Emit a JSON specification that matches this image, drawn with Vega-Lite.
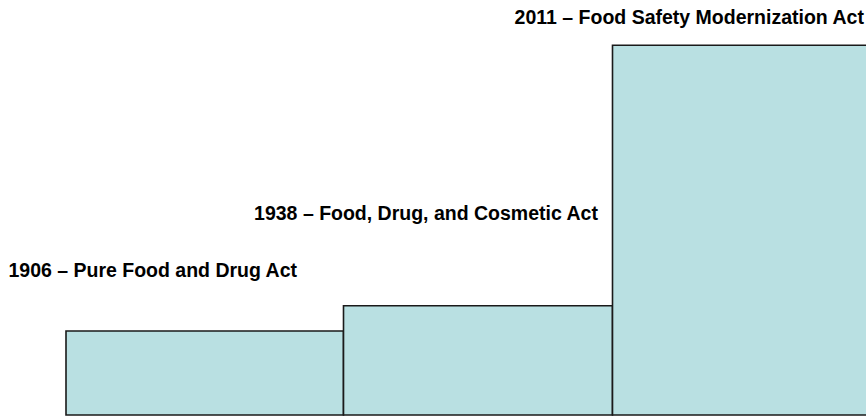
{
  "$schema": "https://vega.github.io/schema/vega-lite/v6.json",
  "width": 866,
  "height": 417,
  "autosize": {"type": "fit", "contains": "padding"},
  "padding": 0,
  "background": "white",
  "config": {"view": {"stroke": null}},
  "data": {
    "values": [
      {"act": "1906 – Pure Food and Drug Act", "start": 66, "end": 343.5, "base": 2, "level": 86, "labelLevel": 140},
      {"act": "1938 – Food, Drug, and Cosmetic Act", "start": 343.5, "end": 612.5, "base": 2, "level": 111.3, "labelLevel": 197},
      {"act": "2011 – Food Safety Modernization Act", "start": 612.5, "end": 870, "base": 2, "level": 371.7, "labelLevel": 393}
    ]
  },
  "transform": [{"calculate": "(datum.start + datum.end) / 2", "as": "mid"}],
  "layer": [
    {
      "mark": {"type": "rect", "fill": "#b9e0e2", "stroke": "#1a1a1a", "strokeWidth": 1.6, "clip": true},
      "encoding": {
        "x": {"field": "start", "type": "quantitative", "scale": {"domain": [0, 866], "nice": false, "zero": false}, "axis": null},
        "x2": {"field": "end"},
        "y": {"field": "base", "type": "quantitative", "scale": {"domain": [0, 417], "nice": false}, "axis": null},
        "y2": {"field": "level"}
      }
    },
    {
      "mark": {"type": "text", "font": "Liberation Sans", "fontWeight": "bold", "fontSize": 19.5, "color": "#000000", "align": "center", "baseline": "alphabetic", "dx": -52},
      "encoding": {
        "x": {"field": "mid", "type": "quantitative"},
        "y": {"field": "labelLevel", "type": "quantitative"},
        "text": {"field": "act"}
      }
    }
  ]
}
